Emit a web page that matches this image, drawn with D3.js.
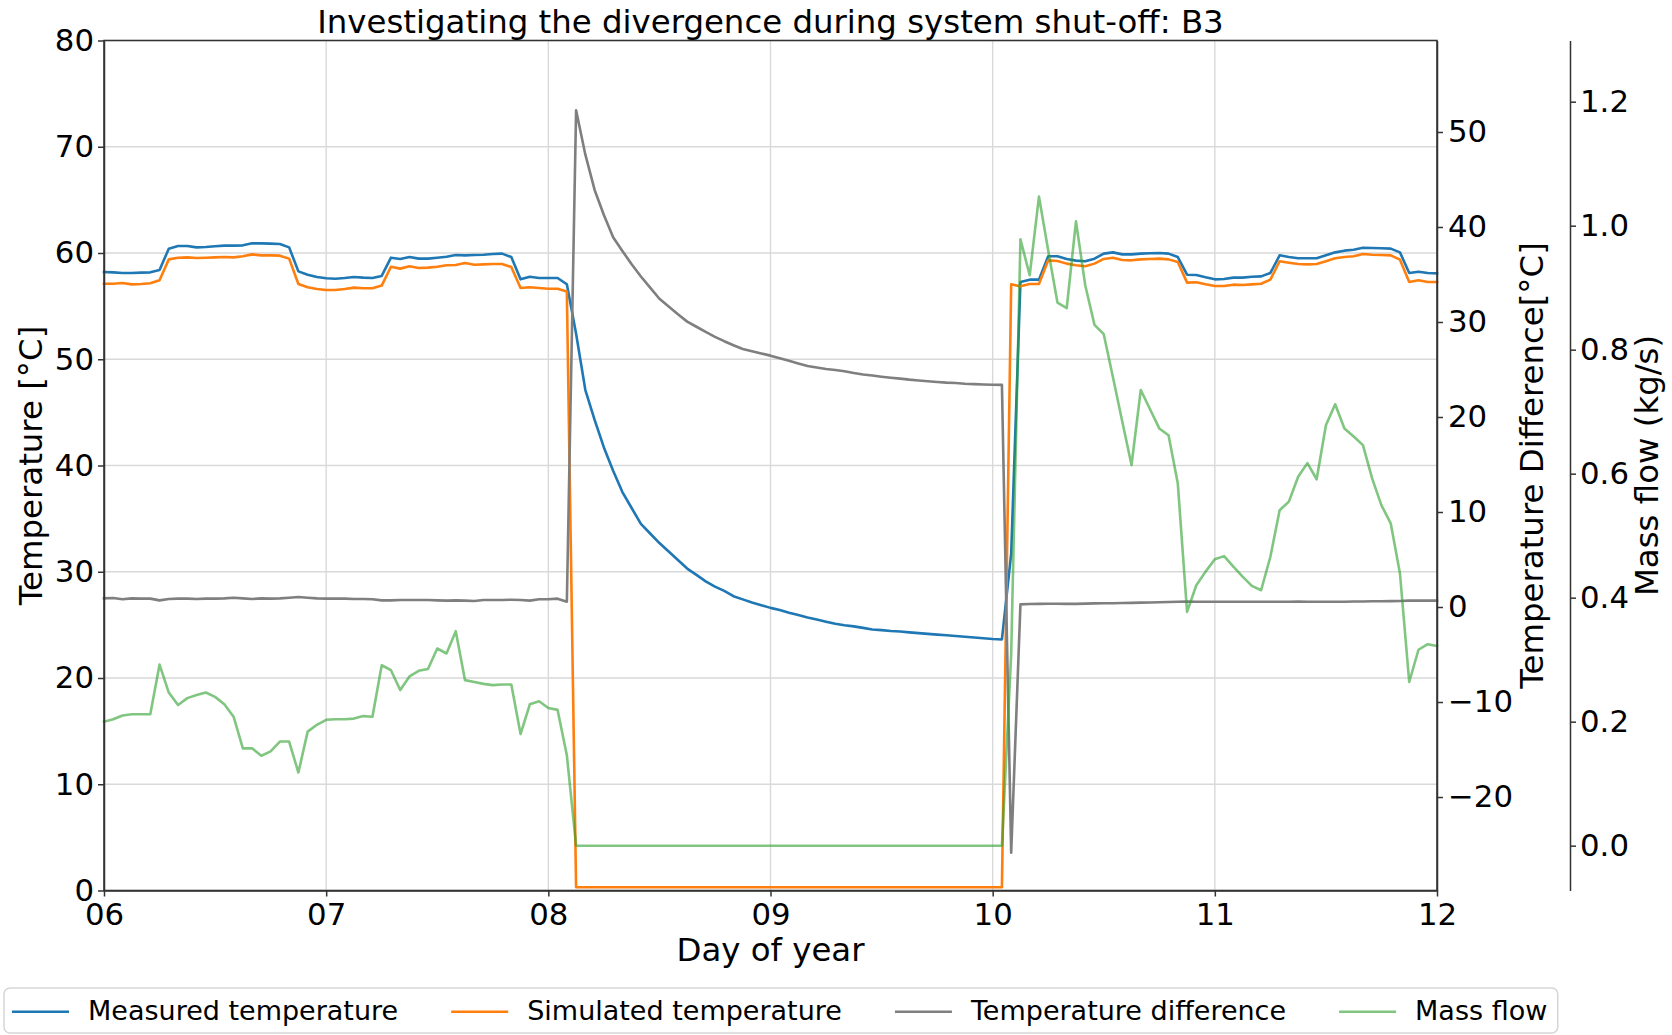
<!DOCTYPE html>
<html>
<head>
<meta charset="utf-8">
<script src="https://cdn.jsdelivr.net/npm/d3@7"></script>
<style>
  body { margin: 0; background: #fff; }
  svg { display: block; }
  text { font-family: "DejaVu Sans", sans-serif; fill: #000; }
</style>
</head>
<body>
<svg id="chart" width="1672" height="1035"></svg>
<script>
// Hourly samples, day 6 00:00 through day 12 00:00
const startDay = 6;
const samplesPerDay = 24;

const dayTicks = [6, 7, 8, 9, 10, 11, 12];
const dayTickLabels = ["06", "07", "08", "09", "10", "11", "12"];
const tempTicks = [0, 10, 20, 30, 40, 50, 60, 70, 80];
const diffTicks = [-20, -10, 0, 10, 20, 30, 40, 50];
const flowTicks = [0.0, 0.2, 0.4, 0.6, 0.8, 1.0, 1.2];

const seriesNames = ["Measured temperature", "Simulated temperature", "Temperature difference", "Mass flow"];

// Measured temperature [°C]
const measured = [
  58.21,58.18,58.12,58.12,58.15,58.18,58.40,60.41,60.66,60.66,60.53,60.56,60.63,60.69,60.69,60.72,60.91,60.91,60.88,60.85,60.53,58.27,57.96,57.74,
  57.62,57.58,57.65,57.74,57.68,57.65,57.84,59.56,59.44,59.62,59.47,59.47,59.56,59.65,59.81,59.78,59.81,59.84,59.91,59.94,59.62,57.52,57.77,57.65,
  57.65,57.65,57.06,52.40,47.10,44.30,41.70,39.50,37.50,36.00,34.50,33.60,32.70,31.90,31.10,30.30,29.70,29.10,28.60,28.20,27.70,27.40,27.10,26.85,
  26.60,26.40,26.15,25.93,25.70,25.50,25.30,25.10,24.96,24.86,24.72,24.57,24.51,24.43,24.37,24.29,24.22,24.15,24.08,24.02,23.95,23.88,23.81,23.74,
  23.67,23.63,31.70,57.27,57.49,57.49,59.69,59.69,59.44,59.28,59.22,59.47,59.94,60.06,59.87,59.87,59.94,59.97,60.00,59.94,59.62,57.96,57.93,57.71,
  57.52,57.55,57.68,57.68,57.77,57.80,58.12,59.78,59.62,59.50,59.50,59.50,59.78,60.06,60.22,60.31,60.50,60.47,60.44,60.41,60.06,58.12,58.24,58.12,
  58.09
];

// Simulated temperature [°C]
const simulated = [
  57.11,57.11,57.18,57.05,57.08,57.15,57.43,59.40,59.56,59.59,59.53,59.56,59.59,59.62,59.59,59.69,59.87,59.78,59.78,59.75,59.47,57.08,56.77,56.61,
  56.52,56.52,56.61,56.74,56.68,56.68,56.93,58.71,58.53,58.75,58.59,58.62,58.71,58.84,58.87,59.06,58.90,58.93,58.96,58.96,58.68,56.71,56.77,56.71,
  56.64,56.64,56.37,0.30,0.30,0.30,0.30,0.30,0.30,0.30,0.30,0.30,0.30,0.30,0.30,0.30,0.30,0.30,0.30,0.30,0.30,0.30,0.30,0.30,
  0.30,0.30,0.30,0.30,0.30,0.30,0.30,0.30,0.30,0.30,0.30,0.30,0.30,0.30,0.30,0.30,0.30,0.30,0.30,0.30,0.30,0.30,0.30,0.30,
  0.30,0.30,57.05,56.86,57.08,57.08,59.31,59.25,59.00,58.84,58.75,59.00,59.44,59.56,59.34,59.31,59.40,59.44,59.47,59.40,59.15,57.21,57.24,57.05,
  56.89,56.89,57.02,56.99,57.05,57.11,57.49,59.22,59.09,58.96,58.93,58.96,59.22,59.50,59.62,59.69,59.91,59.84,59.81,59.78,59.37,57.27,57.43,57.27,
  57.27
];

// Temperature difference [°C]
const difference = [
  0.91,0.95,0.81,0.91,0.88,0.88,0.70,0.84,0.88,0.88,0.84,0.88,0.88,0.91,0.98,0.91,0.84,0.91,0.88,0.91,0.98,1.05,0.98,0.91,
  0.88,0.88,0.88,0.84,0.84,0.81,0.70,0.70,0.74,0.74,0.74,0.74,0.70,0.67,0.70,0.67,0.63,0.74,0.74,0.74,0.77,0.74,0.67,0.81,
  0.81,0.88,0.56,52.28,47.61,43.90,41.26,38.93,37.48,36.07,34.79,33.62,32.45,31.64,30.82,30.04,29.50,28.95,28.44,27.98,27.55,27.16,26.93,26.69,
  26.46,26.19,25.92,25.64,25.37,25.21,25.06,24.94,24.82,24.63,24.47,24.36,24.24,24.13,24.04,23.93,23.85,23.77,23.69,23.62,23.58,23.50,23.46,23.42,
  23.40,23.38,-25.86,0.28,0.32,0.33,0.35,0.35,0.33,0.33,0.36,0.38,0.40,0.40,0.42,0.44,0.46,0.48,0.50,0.52,0.56,0.58,0.56,0.56,
  0.56,0.56,0.56,0.56,0.56,0.56,0.56,0.56,0.56,0.58,0.56,0.56,0.56,0.56,0.56,0.58,0.58,0.60,0.60,0.62,0.64,0.67,0.67,0.67,
  0.67
];

// Mass flow [kg/s]
const massFlow = [
  0.200,0.204,0.210,0.212,0.212,0.212,0.292,0.247,0.227,0.238,0.243,0.247,0.240,0.228,0.208,0.157,0.157,0.145,0.152,0.168,0.168,0.118,0.184,0.195,
  0.203,0.204,0.204,0.205,0.209,0.208,0.291,0.283,0.251,0.273,0.282,0.285,0.318,0.310,0.346,0.267,0.264,0.261,0.259,0.260,0.260,0.180,0.228,0.233,
  0.222,0.219,0.146,0,0,0,0,0,0,0,0,0,0,0,0,0,0,0,0,0,0,0,0,0,
  0,0,0,0,0,0,0,0,0,0,0,0,0,0,0,0,0,0,0,0,0,0,0,0,
  0,0,0.309,0.978,0.920,1.047,0.960,0.876,0.867,1.007,0.904,0.840,0.825,0.755,0.684,0.614,0.735,0.704,0.673,0.662,0.584,0.377,0.420,0.442,
  0.462,0.467,0.450,0.434,0.419,0.412,0.466,0.541,0.555,0.595,0.617,0.591,0.678,0.712,0.673,0.660,0.646,0.592,0.549,0.520,0.439,0.264,0.316,0.325,
  0.322
];

const colors = ["#1f77b4", "#ff7f0e", "#7f7f7f", "#2ca02c"];

// ---- layout ----
const plot = { left: 104, right: 1437, top: 40.5, bottom: 890.5 };
const flowSpineX = 1570;
const tickFont = 30.8, labelFont = 32.4, legendFont = 27;

const svg = d3.select("#chart");

const x = d3.scaleLinear().domain([6, 12]).range([plot.left, plot.right]);
const yTemp = d3.scaleLinear().domain([0, 80]).range([plot.bottom, plot.top]);
const yDiff = d3.scaleLinear().domain([-29.84, 59.63]).range([plot.bottom, plot.top]);
const yFlow = d3.scaleLinear().domain([-0.0723, 1.2987]).range([plot.bottom, plot.top]);

const tOf = i => startDay + i / samplesPerDay;

// grid
const grid = svg.append("g").attr("stroke", "#d9d9d9").attr("stroke-width", 1.4);
grid.selectAll("line.v").data(dayTicks).join("line")
  .attr("x1", d => x(d)).attr("x2", d => x(d))
  .attr("y1", plot.top).attr("y2", plot.bottom);
grid.selectAll("line.h").data(tempTicks).join("line")
  .attr("x1", plot.left).attr("x2", plot.right)
  .attr("y1", d => yTemp(d)).attr("y2", d => yTemp(d));

// series
function drawLine(values, yScale, color, opacity) {
  const line = d3.line().x((d, i) => x(tOf(i))).y(d => yScale(d));
  svg.append("path")
    .datum(values)
    .attr("d", line)
    .attr("fill", "none")
    .attr("stroke", color)
    .attr("stroke-opacity", opacity)
    .attr("stroke-width", 2.6)
    .attr("stroke-linejoin", "round")
    .attr("stroke-linecap", "square");
}
drawLine(measured, yTemp, colors[0], 1);
drawLine(simulated, yTemp, colors[1], 1);
drawLine(difference, yDiff, colors[2], 1);
drawLine(massFlow, yFlow, colors[3], 0.6);

// frame
svg.append("rect")
  .attr("x", plot.left).attr("y", plot.top)
  .attr("width", plot.right - plot.left).attr("height", plot.bottom - plot.top)
  .attr("fill", "none").attr("stroke", "#333").attr("stroke-width", 1.5);

function styleAxis(g) {
  g.select(".domain").attr("stroke", "#333").attr("stroke-width", 1.5);
  g.selectAll(".tick line").attr("stroke", "#333").attr("stroke-width", 1.5);
  g.selectAll(".tick text").attr("font-size", tickFont).attr("font-family", "DejaVu Sans").attr("fill", "#000");
}

const minus = v => String(v).replace("-", "\u2212");

svg.append("g").attr("transform", `translate(0,${plot.bottom})`)
  .call(d3.axisBottom(x).tickValues(dayTicks).tickFormat((d, i) => dayTickLabels[i]).tickSize(6).tickPadding(7).tickSizeOuter(0))
  .call(styleAxis);

svg.append("g").attr("transform", `translate(${plot.left},0)`)
  .call(d3.axisLeft(yTemp).tickValues(tempTicks).tickSize(6).tickPadding(4).tickSizeOuter(0))
  .call(styleAxis);

svg.append("g").attr("transform", `translate(${plot.right},0)`)
  .call(d3.axisRight(yDiff).tickValues(diffTicks).tickFormat(minus).tickSize(6).tickPadding(5).tickSizeOuter(0))
  .call(styleAxis);

svg.append("g").attr("transform", `translate(${flowSpineX},0)`)
  .call(d3.axisRight(yFlow).tickValues(flowTicks).tickFormat(d3.format(".1f")).tickSize(6).tickPadding(4).tickSizeOuter(0))
  .call(styleAxis);

// titles and axis labels
svg.append("text")
  .attr("x", (plot.left + plot.right) / 2).attr("y", 33)
  .attr("text-anchor", "middle").attr("font-size", labelFont)
  .text("Investigating the divergence during system shut-off: B3");

svg.append("text")
  .attr("x", (plot.left + plot.right) / 2).attr("y", 961)
  .attr("text-anchor", "middle").attr("font-size", labelFont)
  .text("Day of year");

const midY = (plot.top + plot.bottom) / 2;
function vLabel(xPos, txt) {
  svg.append("text")
    .attr("transform", `translate(${xPos},${midY}) rotate(-90)`)
    .attr("text-anchor", "middle").attr("font-size", labelFont)
    .text(txt);
}
vLabel(41.5, "Temperature [°C]");
vLabel(1543, "Temperature Difference[°C]");
vLabel(1658, "Mass flow (kg/s)");

// legend
const legend = svg.append("g");
const legendBox = legend.append("rect")
  .attr("x", 4).attr("y", 988).attr("height", 45).attr("rx", 6)
  .attr("fill", "#fff").attr("stroke", "#d6d6d6").attr("stroke-width", 1.5);
let cursor = 12;
const legendY = 1011.7;
const sampleLen = 57, textGap = 19, entryGap = 53, boxPadRight = 10.5;
seriesNames.forEach((name, i) => {
  legend.append("line")
    .attr("x1", cursor).attr("x2", cursor + sampleLen)
    .attr("y1", legendY).attr("y2", legendY)
    .attr("stroke", colors[i]).attr("stroke-opacity", i === 3 ? 0.6 : 1)
    .attr("stroke-width", 2.6);
  const t = legend.append("text")
    .attr("x", cursor + sampleLen + textGap).attr("y", legendY).attr("dy", "0.32em")
    .attr("font-size", legendFont)
    .text(name);
  cursor += sampleLen + textGap + t.node().getComputedTextLength() + entryGap;
});
legendBox.attr("width", cursor - entryGap + boxPadRight - 4);
</script>
</body>
</html>
